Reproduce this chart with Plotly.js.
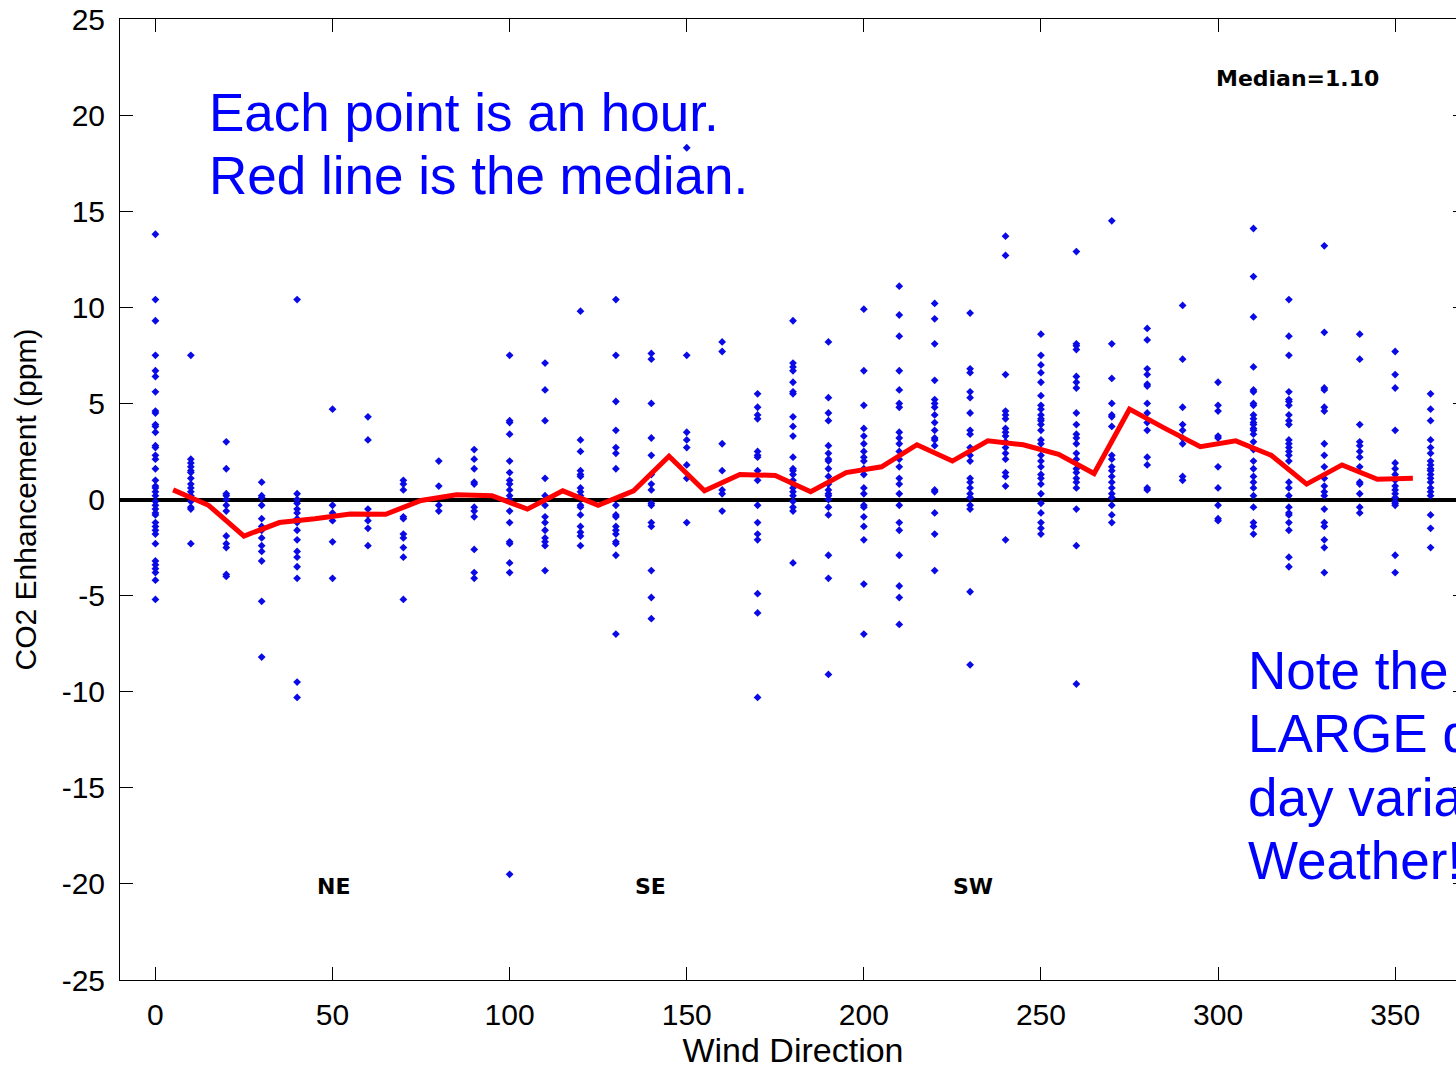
<!DOCTYPE html>
<html>
<head>
<meta charset="utf-8">
<script src="https://cdn.plot.ly/plotly-3.0.1.min.js"></script>
<style>
  html, body { margin: 0; padding: 0; overflow: hidden; background: #fff; }
  #chart { width: 1470px; height: 1071px; }
</style>
</head>
<body>
<div id="chart"></div>
<script>
// Hourly CO2 enhancement (ppm) by wind direction bin (degrees)
const d000 = [13.8, 10.4, 9.3, 7.5, 6.7, 6.4, 5.6, 4.6, 4.5, 3.9, 3.8, 3.5, 2.8, 2.7, 2.3, 2.1, 1.6, 1.0, 0.7, 0.6, 0.4, 0.2, -0.1, -0.3, -0.5, -0.7, -0.8, -1.2, -1.4, -1.6, -1.8, -2.3, -3.2, -3.4, -3.6, -3.8, -4.2, -5.2];
const d010 = [7.5, 2.1, 1.9, 1.7, 1.5, 1.4, 1.1, 0.8, 0.6, 0.4, 0.2, -0.1, -0.4, -0.5, -2.3];
const d020 = [3.0, 1.6, 0.3, 0.2, 0.0, -0.3, -0.6, -1.9, -2.3, -2.5, -3.9, -4.0];
const d030 = [0.9, 0.2, 0.1, -0.3, -1.0, -1.4, -1.6, -2.0, -2.4, -2.7, -3.2, -5.3, -8.2];
const d040 = [10.4, 0.3, 0.0, -0.2, -0.5, -0.7, -1.0, -1.2, -1.6, -2.1, -2.7, -3.0, -3.5, -4.1, -9.5, -10.3];
const d050 = [4.7, -0.3, -0.7, -1.1, -2.2, -4.1];
const d060 = [4.3, 3.1, -0.5, -0.8, -1.1, -1.5, -2.4];
const d070 = [1.0, 0.8, 0.5, -0.9, -1.0, -1.8, -2.0, -2.5, -3.0, -5.2];
const d080 = [2.0, 0.7, -0.3, -0.6];
const d090 = [2.6, 2.1, 1.6, 0.9, 0.8, -0.4, -0.6, -0.9, -2.6, -3.8, -4.1];
const d100 = [7.5, 4.1, 4.0, 3.4, 2.0, 1.4, 1.0, 0.8, 0.5, 0.2, 0.0, -0.6, -1.2, -2.2, -2.3, -3.3, -3.8, -19.5];
const d110 = [7.1, 5.7, 4.1, 1.1, 0.2, -0.3, -0.9, -1.2, -1.6, -2.0, -2.2, -2.4, -3.7];
const d120 = [9.8, 3.1, 2.5, 1.5, 1.3, 1.2, 0.6, 0.4, 0.2, -0.3, -0.4, -0.8, -1.4, -1.7, -1.9, -2.4];
const d130 = [10.4, 7.5, 5.1, 3.6, 2.7, 2.4, 1.6, -0.3, -0.8, -0.9, -1.4, -1.6, -1.8, -2.2, -2.3, -2.9, -7.0];
const d140 = [7.6, 7.3, 5.0, 3.2, 2.3, 1.3, 0.8, 0.5, -0.2, -0.3, -1.2, -1.4, -3.7, -5.1, -6.2];
const d150 = [18.3, 7.5, 3.5, 3.1, 2.7, 1.8, 1.1, -1.2];
const d160 = [8.2, 7.7, 2.9, 1.5, 0.5, 0.3, -0.6];
const d170 = [5.5, 4.8, 4.4, 4.2, 2.5, 2.3, 2.2, 1.5, 1.0, -0.3, -1.2, -1.8, -2.1, -4.9, -5.9, -10.3];
const d180 = [9.3, 7.1, 6.9, 6.7, 6.1, 5.6, 5.5, 4.3, 3.8, 3.3, 2.2, 1.6, 1.5, 1.3, 1.0, 0.8, 0.6, 0.4, 0.2, -0.1, -0.4, -0.6, -3.3];
const d190 = [8.2, 5.3, 4.5, 4.1, 2.8, 2.4, 2.1, 2.0, 1.6, 1.2, 0.8, 0.5, 0.3, 0.2, 0.0, -0.4, -0.8, -2.9, -4.1, -9.1];
const d200 = [9.9, 6.7, 4.9, 3.7, 3.3, 2.9, 2.5, 2.2, 2.0, 1.6, 1.3, 0.6, 0.3, -0.3, -0.4, -0.9, -1.4, -2.1, -4.4, -7.0];
const d210 = [11.1, 9.6, 8.5, 6.7, 5.7, 5.0, 4.8, 3.5, 3.2, 2.9, 2.5, 2.1, 1.7, 1.1, 0.8, 0.3, -0.3, -1.2, -1.6, -2.9, -4.5, -5.1, -6.5];
const d220 = [10.2, 9.4, 8.1, 6.2, 5.2, 5.0, 4.8, 4.4, 4.0, 3.6, 3.2, 3.1, 2.8, 0.5, 0.4, -0.7, -1.8, -3.7];
const d230 = [9.7, 6.8, 6.6, 5.6, 5.3, 4.5, 3.6, 3.4, 2.7, 2.3, 2.0, 1.1, 0.9, 0.6, 0.3, 0.1, -0.3, -0.5, -4.8, -8.6];
const d240 = [13.7, 12.7, 6.5, 4.6, 4.4, 4.2, 3.7, 3.5, 3.3, 3.0, 2.7, 2.4, 2.1, 1.4, 1.2, 0.7, -2.1];
const d250 = [8.6, 7.5, 7.0, 6.6, 6.1, 5.4, 4.9, 4.7, 4.4, 4.2, 4.1, 3.9, 3.6, 3.1, 2.9, 2.3, 2.0, 1.7, 1.3, 1.1, 0.8, 0.3, -0.2, -0.7, -1.2, -1.5, -1.8];
const d260 = [12.9, 8.1, 8.0, 7.8, 6.4, 6.1, 5.8, 4.5, 3.9, 3.4, 3.2, 2.9, 2.4, 2.1, 1.6, 1.4, 1.1, 0.9, 0.6, -0.5, -2.4, -9.6];
const d270 = [14.5, 8.1, 6.3, 5.0, 4.4, 4.3, 3.8, 2.3, 2.1, 1.7, 1.5, 1.2, 0.9, 0.6, 0.3, 0.1, -0.3, -0.8, -1.2];
const d280 = [8.9, 8.3, 6.8, 6.5, 6.0, 5.9, 5.0, 4.5, 4.0, 3.6, 2.2, 1.8, 0.6, 0.5];
const d290 = [10.1, 7.3, 4.8, 3.9, 3.6, 3.2, 2.9, 1.2, 1.0];
const d300 = [6.1, 4.9, 4.6, 3.3, 3.2, 1.7, 0.6, -0.3, -1.0, -1.1];
const d310 = [14.1, 11.6, 9.5, 6.9, 5.7, 5.6, 5.0, 4.9, 4.4, 4.2, 4.0, 3.9, 3.7, 3.6, 3.4, 3.0, 2.6, 2.0, 1.6, 1.2, 0.9, 0.6, 0.2, -0.4, -1.2, -1.4, -1.8];
const d320 = [10.4, 8.5, 7.5, 5.6, 5.2, 5.1, 4.9, 4.4, 4.1, 3.9, 3.1, 2.9, 2.7, 2.5, 2.3, 2.0, 0.9, 0.6, 0.2, -0.4, -0.7, -0.8, -1.2, -1.6, -3.0, -3.5];
const d330 = [13.2, 8.7, 5.8, 5.7, 4.8, 4.6, 2.9, 2.3, 1.7, 1.1, 0.7, 0.4, 0.2, -0.5, -1.2, -1.4, -2.1, -2.5, -3.8];
const d340 = [8.6, 7.3, 3.9, 3.0, 2.8, 2.5, 2.2, 1.7, 0.9, 0.8, 0.3, -0.4, -0.7];
const d350 = [7.7, 6.5, 5.8, 3.6, 1.9, 1.6, 1.3, 1.0, 0.7, 0.5, 0.3, 0.1, -0.1, -0.2, -0.3, -2.9, -3.8];
const d360 = [5.5, 4.7, 4.1, 3.1, 2.7, 2.4, 2.0, 1.8, 1.6, 1.5, 1.3, 1.1, 0.9, 0.6, 0.4, 0.2, -0.8, -1.5, -2.5];

const directions = [0, 10, 20, 30, 40, 50, 60, 70, 80, 90, 100, 110, 120, 130, 140, 150, 160, 170, 180,
                    190, 200, 210, 220, 230, 240, 250, 260, 270, 280, 290, 300, 310, 320, 330, 340, 350, 360];
const columns = [d000, d010, d020, d030, d040, d050, d060, d070, d080, d090, d100, d110, d120, d130, d140,
                 d150, d160, d170, d180, d190, d200, d210, d220, d230, d240, d250, d260, d270, d280, d290,
                 d300, d310, d320, d330, d340, d350, d360];

// Binned median (red line)
const medianDir = [5, 15, 25, 35, 45, 55, 65, 75, 85, 95, 105, 115, 125, 135, 145, 155, 165, 175,
                   185, 195, 205, 215, 225, 235, 245, 255, 265, 275, 285, 295, 305, 315, 325, 335, 345, 355];
const medianVal = [0.5, -0.3, -1.9, -1.2, -1.0, -0.75, -0.77, -0.05, 0.25, 0.2, -0.5, 0.45, -0.3, 0.45, 2.25,
                   0.45, 1.3, 1.25, 0.4, 1.4, 1.7, 2.85, 2.0, 3.05, 2.85, 2.35, 1.35, 4.7, 3.7, 2.75, 3.05,
                   2.3, 0.8, 1.8, 1.05, 1.1];

const xTickVals = [0, 50, 100, 150, 200, 250, 300, 350];
const yTickVals = [-25, -20, -15, -10, -5, 0, 5, 10, 15, 20, 25];
const yTickText = ['-25', '-20', '-15', '-10', '-5', '0', '5', '10', '15', '20', '25'];

const ptX = [], ptY = [];
directions.forEach((d, i) => columns[i].forEach(v => { ptX.push(d); ptY.push(v); }));

const W = 1470, H = 1071;
const L = 120, R = 4, T = 19, B = 91;
const pw = W - L - R, ph = H - T - B;
const px = p => (p - L) / pw;
const py = p => (H - B - p) / ph;

const traces = [
  {
    type: 'scatter', mode: 'markers', x: ptX, y: ptY,
    marker: { symbol: 'diamond', size: 6, color: '#0a0ae6' },
    hoverinfo: 'x+y', showlegend: false
  },
  {
    type: 'scatter', mode: 'lines', x: medianDir, y: medianVal,
    line: { color: '#ff0000', width: 5 },
    showlegend: false
  }
];

const blueFont = { family: 'Arial, "Liberation Sans", sans-serif', size: 53, color: '#0000ff' };
const boldFont = { family: '"DejaVu Sans", sans-serif', size: 22, color: '#000000', weight: 'bold' };

function blue(text, xp, yp) {
  return { text: text, xref: 'paper', yref: 'paper', x: px(xp), y: py(yp),
           xanchor: 'left', yanchor: 'middle', showarrow: false, font: blueFont, align: 'left' };
}
function bold(text, xp, yp) {
  return { text: '<b>' + text + '</b>', xref: 'paper', yref: 'paper', x: px(xp), y: py(yp),
           xanchor: 'center', yanchor: 'middle', showarrow: false, font: boldFont };
}

const layout = {
  width: W, height: H,
  margin: { l: L, r: R, t: T, b: B, pad: 0 },
  paper_bgcolor: '#ffffff', plot_bgcolor: '#ffffff',
  font: { family: 'Arial, "Liberation Sans", sans-serif', color: '#000000' },
  xaxis: {
    range: [-10, 370], tickmode: 'array', tickvals: xTickVals,
    ticks: 'inside', ticklen: 13, tickwidth: 1, tickcolor: '#000',
    showline: true, linecolor: '#000', linewidth: 1, mirror: 'ticks',
    showgrid: false, zeroline: false,
    tickfont: { size: 30 }, ticklabelstandoff: 8,
    title: { text: 'Wind Direction', font: { size: 34 }, standoff: 4 },
    automargin: false, fixedrange: true
  },
  yaxis: {
    range: [-25, 25], tickmode: 'array', tickvals: yTickVals, ticktext: yTickText,
    ticks: 'inside', ticklen: 13, tickwidth: 1, tickcolor: '#000',
    showline: true, linecolor: '#000', linewidth: 1, mirror: 'ticks',
    showgrid: false, zeroline: true, zerolinecolor: '#000', zerolinewidth: 4,
    tickfont: { size: 30 }, ticklabelstandoff: 8,
    title: { text: 'CO2 Enhancement (ppm)', font: { size: 30 }, standoff: 16 },
    automargin: false, fixedrange: true
  },
  annotations: [
    blue('Each point is an hour.', 207, 112),
    blue('Red line is the median.', 207, 175),
    blue('Note the', 1246, 670),
    blue('LARGE day-to-', 1246, 733),
    blue('day variability:', 1246, 797),
    blue('Weather!', 1246, 860),
    bold('Median=1.10', 1297, 79),
    bold('NE', 333, 886),
    bold('SE', 650, 886),
    bold('SW', 973, 886)
  ]
};

Plotly.newPlot('chart', traces, layout, { staticPlot: true, displayModeBar: false });
</script>
</body>
</html>
